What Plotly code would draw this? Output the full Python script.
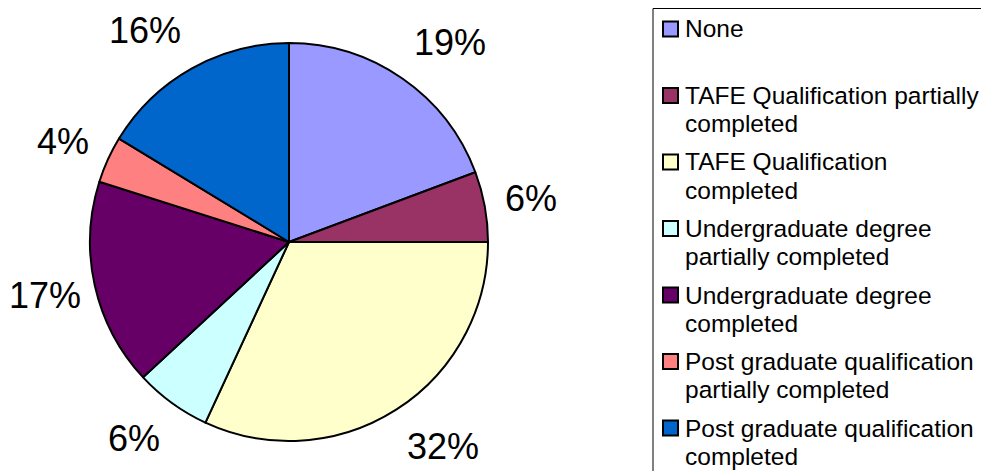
import math
import plotly.graph_objects as go

# ---- data ----
categories = [
    "None",
    "TAFE Qualification partially completed",
    "TAFE Qualification completed",
    "Undergraduate degree partially completed",
    "Undergraduate degree completed",
    "Post graduate qualification partially completed",
    "Post graduate qualification completed",
]
legend_lines = [
    ["None"],
    ["TAFE Qualification partially", "completed"],
    ["TAFE Qualification", "completed"],
    ["Undergraduate degree", "partially completed"],
    ["Undergraduate degree", "completed"],
    ["Post graduate qualification", "partially completed"],
    ["Post graduate qualification", "completed"],
]
values = [19.3, 5.7, 31.9, 6.2, 16.8, 3.8, 16.3]
colors = ["#9999FF", "#993366", "#FFFFCC", "#CCFFFF", "#660066", "#FF8080", "#0066CC"]

# ---- layout constants (target pixel positions; page body has an 8px margin) ----
W, H = 989, 471
OFF = 8


def px(x):
    return (x - OFF) / W


def py(y):
    return 1 - (y - OFF) / H


cx_px, cy_px, R = 289, 242, 199
dom_x = [px(cx_px - R), px(cx_px + R)]
dom_y = [py(cy_px + R), py(cy_px - R)]

fig = go.Figure(go.Pie(
    labels=categories,
    values=values,
    sort=False,
    direction="clockwise",
    rotation=0,
    marker=dict(colors=colors, line=dict(color="black", width=2)),
    textinfo="none",
    hoverinfo="label+percent",
    showlegend=False,
    domain=dict(x=dom_x, y=dom_y),
))

# percentage labels placed outside each slice
LABEL_FS = 36
total = sum(values)
cum = 0.0
r0 = 220
annotations = []
for v in values:
    mid = (cum + v / 2) / total * 2 * math.pi
    cum += v
    txt = f"{round(v / total * 100)}%"
    w = LABEL_FS * (0.556 * (len(txt) - 1) + 0.889)
    h = LABEL_FS * 1.28
    s, c = math.sin(mid), math.cos(mid)
    x = cx_px + r0 * s + (w / 2) * (1 if s >= 0 else -1)
    x = max(x, OFF + w / 2 + 1)
    y = cy_px - r0 * c - (h / 2) * c
    annotations.append(dict(
        x=px(x), y=py(y), xref="paper", yref="paper",
        text=txt, showarrow=False,
        xanchor="center", yanchor="middle",
        font=dict(family="Liberation Sans, Arial", size=LABEL_FS, color="black"),
    ))

# legend (box, colour squares, wrapped texts)
shapes = []
box_left, box_top = 653, 8.5
shapes.append(dict(type="rect", xref="paper", yref="paper",
                   x0=px(box_left), x1=1.05, y0=-0.1, y1=py(box_top),
                   line=dict(color="black", width=1), fillcolor="rgba(0,0,0,0)"))
item_step = 66.5
first_center = 29
line_step = 28
for i, (lines, col) in enumerate(zip(legend_lines, colors)):
    yc = first_center + i * item_step
    shapes.append(dict(type="rect", xref="paper", yref="paper",
                       x0=px(663), x1=px(678),
                       y0=py(yc + 7.5), y1=py(yc - 7.5),
                       fillcolor=col, line=dict(color="black", width=2)))
    for j, t in enumerate(lines):
        annotations.append(dict(
            x=px(683), y=py(yc + j * line_step), xref="paper", yref="paper",
            text=t, showarrow=False, xanchor="left", yanchor="middle",
            font=dict(family="Liberation Sans, Arial", size=24.5, color="black"),
        ))

fig.update_layout(
    width=W, height=H,
    margin=dict(l=0, r=0, t=0, b=0),
    paper_bgcolor="white", plot_bgcolor="white",
    annotations=annotations, shapes=shapes,
    showlegend=False,
)

fig.write_html("out.html")
